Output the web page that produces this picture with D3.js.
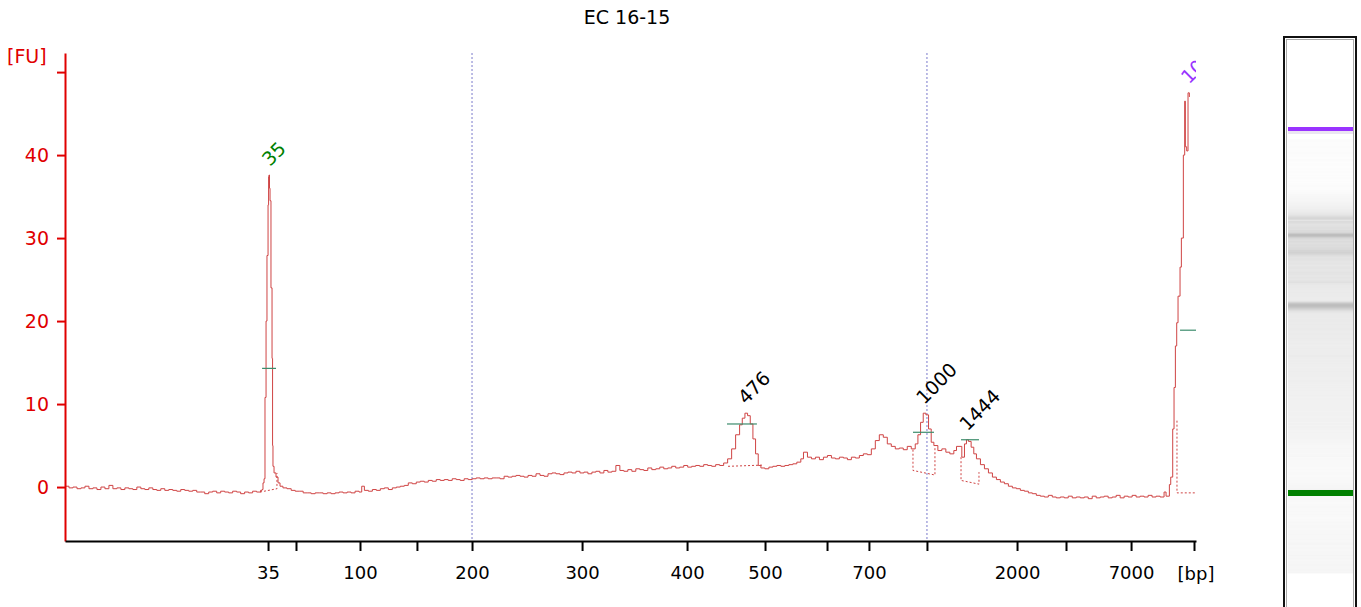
<!DOCTYPE html>
<html>
<head>
<meta charset="utf-8">
<script src="https://cdn.jsdelivr.net/npm/d3@7"></script>
<style>
  body { margin: 0; background: #fff; }
  text { font-family: "DejaVu Sans", Verdana, sans-serif; }
</style>
</head>
<body>
<svg id="chart" width="1361" height="607"></svg>
<script>
// ladder: sizes in bp and their migration times (s)
const ladderBp = [35, 50, 100, 150, 200, 300, 400, 500, 600, 700, 1000, 2000, 3000, 7000, 10380];
const ladderTime = [55.26, 57.36, 62.17, 66.45, 70.59, 78.86, 86.75, 92.61, 97.27, 100.42, 104.78, 111.55, 115.23, 120.12, 124.85];
const ladderLabel = ["35", "", "100", "", "200", "300", "400", "500", "", "700", "", "2000", "", "7000", ""];
const guideBp = [200, 1000];

const yTicks = [0, 10, 20, 30, 40, 50];

// electropherogram trace
const traceTime = [
  40.0, 40.3, 40.6, 40.9, 41.2, 41.5, 41.8, 42.1, 42.4, 42.7, 43.0, 43.3, 43.6, 43.9, 44.2, 44.5, 44.8, 45.1, 45.4, 45.7,
  46.0, 46.3, 46.6, 46.9, 47.2, 47.5, 47.8, 48.1, 48.4, 48.7, 49.0, 49.3, 49.6, 49.9, 50.2, 50.5, 50.8, 51.1, 51.4, 51.7,
  52.0, 52.3, 52.6, 52.9, 53.2, 53.5, 53.8, 54.1, 54.4, 54.7,
  54.81, 54.88, 54.96, 55.03, 55.11, 55.18, 55.26, 55.30, 55.33, 55.37, 55.41, 55.48, 55.56, 55.60, 55.63, 55.71, 55.86, 55.93, 56.01, 56.16, 56.38, 56.68,
  57.0, 57.3, 57.6, 57.9, 58.2, 58.5, 58.8, 59.1, 59.4, 59.7, 60.0, 60.3, 60.6, 60.9, 61.2, 61.5, 61.8, 62.1, 62.3, 62.5,
  62.8, 63.1, 63.4, 63.7, 64.0, 64.3, 64.6, 64.9, 65.2, 65.5, 65.8, 66.1, 66.4, 66.7, 67.0, 67.3, 67.6, 67.9, 68.2, 68.5,
  68.8, 69.1, 69.4, 69.7, 70.0, 70.3, 70.6, 70.9, 71.2, 71.5, 71.8, 72.1, 72.4, 72.7, 73.0, 73.3, 73.6, 73.9, 74.2, 74.5,
  74.8, 75.1, 75.4, 75.7, 76.0, 76.3, 76.6, 76.9, 77.2, 77.5, 77.8, 78.1, 78.4, 78.7, 79.0, 79.3, 79.6, 79.9, 80.2, 80.5,
  80.8, 81.1, 81.4, 81.7, 82.0, 82.3, 82.6, 82.9, 83.2, 83.5, 83.8, 84.1, 84.4, 84.7, 85.0, 85.3, 85.6, 85.9, 86.2, 86.5,
  86.8, 87.1, 87.4, 87.7, 88.0, 88.3, 88.6, 88.9, 89.2, 89.5, 89.8, 90.1, 90.4, 90.7, 90.9, 91.1, 91.3, 91.5, 91.7, 91.9,
  92.1, 92.3, 92.6, 92.9, 93.2, 93.5, 93.8, 94.1, 94.4, 94.7, 95.0, 95.3, 95.5, 95.8, 96.1, 96.4, 96.7, 97.0, 97.3, 97.6,
  97.9, 98.2, 98.5, 98.8, 99.1, 99.4, 99.7, 100.0, 100.3, 100.6, 100.9, 101.2, 101.5, 101.8, 102.1, 102.4, 102.7, 103.0, 103.3, 103.6,
  103.9, 104.1, 104.3, 104.5, 104.7, 104.9, 105.1, 105.3, 105.6, 105.9, 106.2, 106.5, 106.8, 107.0, 107.4, 107.6, 107.75, 107.9, 108.1, 108.3,
  108.5, 108.8, 109.1, 109.4, 109.7, 110.0, 110.3, 110.6, 110.9, 111.2, 111.5, 111.8, 112.1, 112.4, 112.7, 113.0, 113.3, 113.6, 113.9, 114.2,
  114.5, 114.8, 115.1, 115.4, 115.7, 116.0, 116.3, 116.6, 116.9, 117.2, 117.5, 117.8, 118.1, 118.4, 118.7, 119.0, 119.3, 119.6, 119.9, 120.2,
  120.5, 120.8, 121.1, 121.4, 121.7, 122.0, 122.3, 122.6, 122.75, 122.9, 123.0, 123.1, 123.25, 123.35, 123.45, 123.55, 123.65, 123.8, 123.9, 124.05,
  124.15, 124.2, 124.3, 124.4, 124.5
];
const traceFU = [
  0.1, -0.1, 0.0, -0.2, -0.1, 0.1, -0.2, -0.1, -0.3, 0.0, -0.2, 0.2, -0.2, -0.1, -0.3, -0.1, -0.2, -0.3, 0.0, -0.2,
  -0.3, -0.1, -0.3, -0.4, -0.2, -0.4, -0.3, -0.4, -0.5, -0.3, -0.4, -0.5, -0.4, -0.6, -0.6, -0.8, -0.6, -0.5, -0.7, -0.5,
  -0.6, -0.7, -0.5, -0.6, -0.8, -0.6, -0.7, -0.5, -0.6, -0.4,
  -0.3, 0.5, 1.0, 10.8, 20.0, 27.9, 34.0, 37.4, 37.6, 36.0, 34.5, 24.0, 15.5, 5.0, 2.5, 1.7, 1.2, 1.2, 0.5, 0.1, -0.1, -0.2,
  -0.4, -0.5, -0.5, -0.7, -0.7, -0.8, -0.7, -0.7, -0.8, -0.7, -0.8, -0.7, -0.6, -0.7, -0.6, -0.7, -0.5, -0.6, 0.1, -0.4,
  -0.5, -0.3, -0.4, -0.2, -0.1, -0.3, -0.1, 0.0, 0.1, 0.2, 0.5, 0.4, 0.6, 0.7, 0.6, 0.8, 0.7, 0.9, 0.8, 0.9,
  0.8, 1.0, 0.9, 0.8, 1.0, 0.9, 1.0, 1.1, 1.0, 1.1, 1.0, 1.1, 1.1, 1.0, 1.3, 1.2, 1.3, 1.4, 1.3, 1.2,
  1.4, 1.3, 1.6, 1.4, 1.3, 1.6, 1.7, 1.6, 1.5, 1.7, 1.8, 1.7, 1.9, 1.7, 1.8, 1.6, 1.8, 1.9, 1.7, 2.0,
  1.8, 1.9, 2.6, 2.0, 1.9, 2.1, 1.9, 2.2, 2.1, 2.0, 2.3, 2.1, 2.2, 2.4, 2.2, 2.3, 2.5, 2.3, 2.4, 2.6,
  2.4, 2.5, 2.6, 2.5, 2.7, 2.6, 2.5, 2.7, 2.6, 2.9, 3.4, 4.6, 6.3, 7.5, 8.3, 8.9, 8.6, 7.6, 5.8, 4.0,
  2.6, 2.3, 2.2, 2.4, 2.5, 2.6, 2.5, 2.6, 2.7, 2.8, 3.0, 3.4, 4.2, 3.6, 3.4, 3.6, 3.3, 3.6, 3.8, 3.5,
  3.4, 3.6, 3.5, 3.3, 3.6, 3.5, 3.8, 4.0, 3.9, 4.6, 5.6, 6.3, 6.0, 5.2, 4.9, 4.6, 4.7, 4.5, 4.9, 4.6,
  5.2, 6.3, 7.8, 8.9, 8.7, 7.0, 5.4, 5.0, 4.4, 4.6, 4.2, 4.0, 4.4, 4.9, 3.6, 5.2, 5.7, 5.5, 4.8, 4.0,
  3.4, 2.7, 2.2, 1.7, 1.2, 0.9, 0.6, 0.4, 0.1, -0.1, -0.2, -0.4, -0.5, -0.7, -0.8, -1.0, -1.1, -1.2, -1.0, -1.2,
  -1.3, -1.2, -1.3, -1.1, -1.3, -1.2, -1.3, -1.2, -1.4, -1.1, -1.3, -1.2, -1.1, -1.3, -1.2, -1.0, -1.3, -1.1, -1.2, -1.0,
  -1.2, -1.1, -1.2, -1.0, -1.2, -1.1, -1.2, -0.6, -1.1, -1.1, 0.3, 1.2, 7.0, 12.0, 17.0, 19.8, 23.0, 26.5, 30.0, 40.0,
  46.5, 41.0, 40.5, 47.5, 47.0
];

// called peaks
const peakLabel = ["35", "476", "1000", "1444", "10380"];
const peakTime = [55.33, 91.1, 104.5, 107.75, 124.4];
const peakTopFU = [37.6, 8.9, 8.9, 5.7, 47.5];
const peakColor = ["#008000", "#000", "#000", "#000", "#9933ff"];
const halfFrom = [54.81, 89.75, 103.73, 107.34, 123.8];
const halfTo = [55.86, 92.0, 105.31, 108.69, 125.0];
const halfFU = [14.3, 7.6, 6.6, 5.7, 18.9];
const baseLines = [
  [[54.66, -0.6], [55.93, -0.2], [55.93, 1.7]],
  [[89.83, 2.5], [92.53, 2.65]],
  [[103.73, 4.5], [103.73, 2.0], [105.38, 1.45], [105.38, 4.9]],
  [[107.34, 3.6], [107.34, 0.8], [108.69, 0.35], [108.69, 1.8]],
  [[123.57, 8.0], [123.57, -0.7], [125.2, -0.7]]
];

const svg = d3.select("#chart");

const x = d3.scaleLinear().domain([40, 125]).range([65, 1196]);
const y = d3.scaleLinear().domain([-6.5, 52.3]).range([541, 53]);
const bpTime = d3.scaleOrdinal().domain(ladderBp).range(ladderTime);

// title
svg.append("text")
  .attr("x", 627).attr("y", 24)
  .attr("text-anchor", "middle")
  .style("font-size", "19px")
  .text("EC 16-15");

// guide lines
svg.selectAll(".guide")
  .data(guideBp)
  .enter()
  .append("line")
  .attr("x1", d => x(bpTime(d))).attr("x2", d => x(bpTime(d)))
  .attr("y1", 53).attr("y2", 541)
  .attr("stroke", "#7a7acc")
  .attr("stroke-dasharray", "2,2");

svg.append("clipPath").attr("id", "plot")
  .append("rect").attr("x", 65).attr("y", 0).attr("width", 1131).attr("height", 541);

const plot = svg.append("g").attr("clip-path", "url(#plot)");

// trace
const pts = traceTime.map((t, i) => [t, traceFU[i]]);
plot.append("path")
  .datum(pts)
  .attr("fill", "none")
  .attr("stroke", "#cf4444")
  .attr("stroke-width", 1)
  .attr("d", d3.line().x(d => x(d[0])).y(d => y(d[1])).curve(d3.curveStepAfter));

// peak baselines
plot.selectAll(".base")
  .data(baseLines)
  .enter()
  .append("path")
  .attr("fill", "none")
  .attr("stroke", "#cf4444")
  .attr("stroke-dasharray", "2,2")
  .attr("d", d3.line().x(d => x(d[0])).y(d => y(d[1])));

// half height bars
plot.selectAll(".half")
  .data(peakLabel)
  .enter()
  .append("line")
  .attr("x1", (d, i) => x(halfFrom[i])).attr("x2", (d, i) => x(halfTo[i]))
  .attr("y1", (d, i) => y(halfFU[i])).attr("y2", (d, i) => y(halfFU[i]))
  .attr("stroke", "#3c8c6c")
  .attr("stroke-width", 1.2);

// peak labels
plot.selectAll(".plabel")
  .data(peakLabel)
  .enter()
  .append("text")
  .attr("transform", (d, i) => `translate(${x(peakTime[i]) + 1},${y(peakTopFU[i]) - 8}) rotate(-45)`)
  .attr("fill", (d, i) => peakColor[i])
  .style("font-size", "19px")
  .text(d => d);

// axes
const yAxis = d3.axisLeft(y)
  .tickValues(yTicks)
  .tickFormat(d => d === 50 ? "" : d)
  .tickSize(8).tickSizeOuter(0).tickPadding(8);

const gy = svg.append("g").attr("transform", "translate(65,0)").call(yAxis);
gy.select(".domain").attr("stroke", "#e00000").attr("stroke-width", 2);
gy.selectAll(".tick line").attr("stroke", "#e00000").attr("stroke-width", 2);
gy.selectAll(".tick text").attr("fill", "#e00000").style("font-size", "19px").style("font-family", "DejaVu Sans");

const xAxis = d3.axisBottom(x)
  .tickValues(ladderTime)
  .tickFormat((d, i) => ladderLabel[i])
  .tickSize(10).tickSizeOuter(0).tickPadding(15);

const gx = svg.append("g").attr("transform", "translate(0,541)").call(xAxis);
gx.select(".domain").attr("stroke", "#000").attr("stroke-width", 2);
gx.selectAll(".tick line").attr("stroke", "#000").attr("stroke-width", 2);
gx.selectAll(".tick text").attr("fill", "#000").style("font-size", "18px").style("font-family", "DejaVu Sans");

svg.append("text")
  .attr("x", 1196).attr("y", 580)
  .attr("text-anchor", "middle")
  .style("font-size", "18px")
  .text("[bp]");

svg.append("text")
  .attr("x", 7).attr("y", 63)
  .attr("fill", "#e00000")
  .style("font-size", "19px")
  .text("[FU]");

// gel lane
const gelY = d3.scaleLinear().domain([ladderTime[0], ladderTime[ladderTime.length - 1]]).range([493, 129]);
const gray = d3.scaleLinear()
  .domain([-1.3, 0, 2.5, 4, 9])
  .range(["#fdfdfd", "#f5f5f5", "#ebebeb", "#e2e2e2", "#bcbcbc"])
  .clamp(true);

const gel = svg.append("g");
gel.append("rect")
  .attr("x", 1284).attr("y", 37).attr("width", 72).attr("height", 580)
  .attr("fill", "#fff").attr("stroke", "#111").attr("stroke-width", 2);
gel.append("rect")
  .attr("x", 1286.5).attr("y", 39.5).attr("width", 67).attr("height", 580)
  .attr("fill", "none").attr("stroke", "#aaa").attr("stroke-width", 1);

const lane = pts.slice(0, -1).map((p, i) => [p[0], pts[i + 1][0], p[1]]).filter(d => d[1] <= 122.9);
gel.selectAll(".band")
  .data(lane)
  .enter()
  .append("rect")
  .attr("x", 1288).attr("width", 65)
  .attr("y", d => gelY(d[1]))
  .attr("height", d => gelY(d[0]) - gelY(d[1]) + 0.6)
  .attr("fill", d => gray(d[2]));

gel.append("rect")
  .attr("x", 1288).attr("width", 65)
  .attr("y", gelY(ladderTime[0]) - 3).attr("height", 6)
  .attr("fill", "#008000");
gel.append("rect")
  .attr("x", 1288).attr("width", 65)
  .attr("y", gelY(ladderTime[ladderTime.length - 1]) - 2).attr("height", 4)
  .attr("fill", "#9933ff");
gel.append("rect")
  .attr("x", 1288).attr("width", 65)
  .attr("y", gelY(ladderTime[ladderTime.length - 1]) + 2).attr("height", 3)
  .attr("fill", "#ebe6f2");
</script>
</body>
</html>
